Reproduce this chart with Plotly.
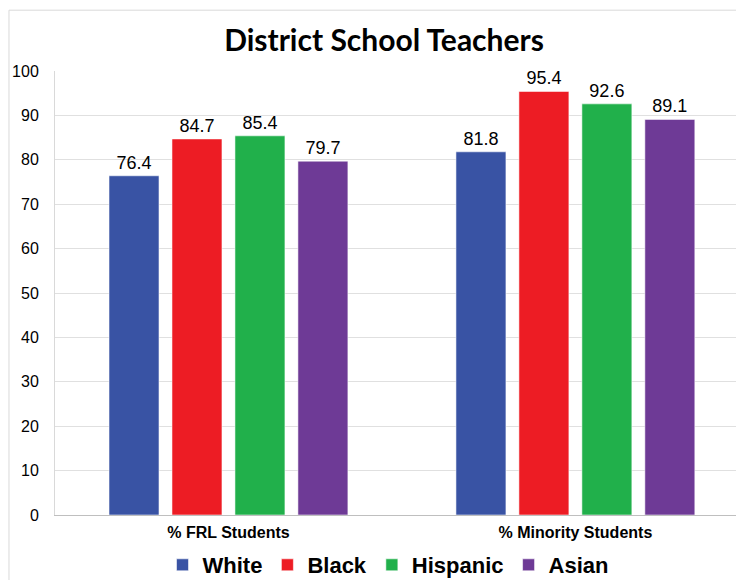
import plotly.graph_objects as go

categories = ["% FRL Students", "% Minority Students"]
white = [76.4, 81.8]
black = [84.7, 95.4]
hispanic = [85.4, 92.6]
asian = [79.7, 89.1]

series = [
    ("White", white, "#3953A4"),
    ("Black", black, "#ED1C24"),
    ("Hispanic", hispanic, "#21B04B"),
    ("Asian", asian, "#6E3A96"),
]

# page body has an 8px margin, so the figure is sized/placed to compensate
W, H = 736, 572

fig = go.Figure()
for name, vals, color in series:
    fig.add_trace(go.Bar(
        x=categories, y=vals, name=name,
        marker=dict(color=color, line=dict(color="rgba(255,255,255,0.55)", width=1)),
        text=[f"{v:.1f}" for v in vals], textposition="outside",
        textfont=dict(family="Liberation Sans, Arial", size=18, color="#000"),
        cliponaxis=False,
    ))

# light frame around the whole chart
fig.add_shape(type="rect", xref="paper", yref="paper",
              x0=-0.0668, x1=1.2, y0=-0.3, y1=1.137,
              line=dict(color="#D9D9D9", width=1), layer="below")

fig.update_layout(
    width=W, height=H,
    margin=dict(l=47, r=0, t=63, b=65, autoexpand=False),
    paper_bgcolor="white", plot_bgcolor="white",
    title=dict(text="<b>District School Teachers</b>", x=376 / W, xref="container",
               y=1 - 32 / H, yref="container", xanchor="center", yanchor="middle",
               font=dict(family="Lato, Open Sans", size=30, color="#000")),
    barmode="group", bargap=0.274, bargroupgap=0.206,
    showlegend=True,
    legend=dict(orientation="h", x=380 / W, xref="container", xanchor="center",
                y=1 - 557 / H, yref="container", yanchor="middle",
                font=dict(family="Liberation Sans, Arial", size=22, color="#000", weight="bold"),
                itemwidth=30, tracegroupgap=0),
)
fig.update_xaxes(range=[-0.5, 1.486], showline=True, linecolor="#BFBFBF", linewidth=1,
                 automargin=False,
                 tickfont=dict(family="Liberation Sans Narrow, Liberation Sans, Arial", size=16,
                               color="#000", weight="bold"),
                 ticks="outside", ticklen=3, tickcolor="rgba(0,0,0,0)")
fig.update_yaxes(range=[0, 100], dtick=10, showgrid=True, gridcolor="#E0E0E0", gridwidth=1,
                 showline=True, linecolor="#D9D9D9", linewidth=1, zeroline=False,
                 automargin=False,
                 tickfont=dict(family="Liberation Sans, Arial", size=16, color="#000"),
                 ticks="outside", ticklen=12, tickcolor="rgba(0,0,0,0)")

fig.write_html("out.html")
